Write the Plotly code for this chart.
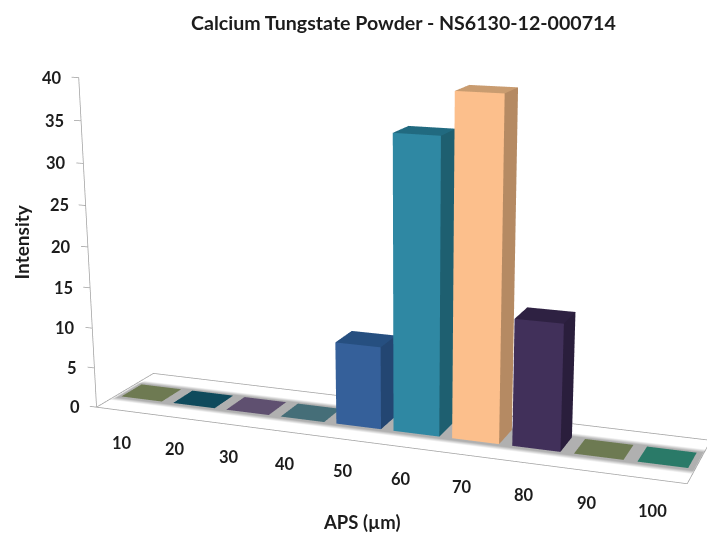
import plotly.graph_objects as go

categories = [10, 20, 30, 40, 50, 60, 70, 80, 90, 100]
values = [0, 0, 0, 0, 10, 35, 40, 15, 0, 0]
y_ticks = [0, 5, 10, 15, 20, 25, 30, 35, 40]

front_colors = ['#6e7a52', '#0f4a5c', '#5f5070', '#456e78', '#35609a', '#2f88a3', '#fcbf8c', '#41305a', '#6d7a52', '#2a7a68']
side_colors = ['#6e7a52', '#0f4a5c', '#5f5070', '#456e78', '#234672', '#1e5f70', '#b58a63', '#2a1e3c', '#6d7a52', '#2a7a68']
top_colors = ['#6e7a52', '#0f4a5c', '#5f5070', '#456e78', '#264f80', '#216a80', '#c99c70', '#2e2142', '#6d7a52', '#2a7a68']

# Depth of the bars on the floor, gap on each side of a bar
D0, D1, GAP = 0.3251, 0.6813, 0.1085
# Figure canvas: the reference has a long lens, so the scene is larger than the window
W, H, TOP = 816, 1349, -370.4
FLAT = dict(ambient=1, diffuse=0, specular=0, fresnel=0, roughness=1)
GREY = '#a0a0a0'
FONT = 'Lato'
INK = '#1c1c1c'


def px(x, y):
    return dict(x=x / W, y=1 - (y - TOP) / H, xref='paper', yref='paper')


fig = go.Figure()

# floor with its soft grey band
xs = [0, 0.06, 9.98, 10]
ys = [0, D0 - 0.11, D0 - 0.03, D1 + 0.03, D1 + 0.11, 1]
fx, fy, fz, fc, ii, jj, kk = [], [], [], [], [], [], []
for r, yv in enumerate(ys):
    for c, xv in enumerate(xs):
        fx.append(xv); fy.append(yv); fz.append(-0.05)
        inside = 1 <= c <= 2 and 2 <= r <= 3
        fc.append('#b0b0b0' if inside else '#ffffff')
for r in range(len(ys) - 1):
    for c in range(len(xs) - 1):
        a = r * len(xs) + c; b = a + 1; d = a + len(xs); e = d + 1
        ii += [a, a]; jj += [b, e]; kk += [e, d]
fig.add_trace(go.Mesh3d(x=fx, y=fy, z=fz, i=ii, j=jj, k=kk, vertexcolor=fc, lighting=FLAT, hoverinfo='skip'))

# bars
for n, v in enumerate(values):
    x0, x1 = n + GAP, n + 1 - GAP
    X = [x0, x1, x1, x0] * 2
    Y = [D0, D0, D1, D1] * 2
    Z = [0] * 4 + [v] * 4
    fig.add_trace(go.Mesh3d(
        x=X, y=Y, z=Z,
        i=[0, 0, 1, 1, 4, 4], j=[1, 5, 2, 6, 5, 6], k=[5, 4, 6, 5, 6, 7],
        facecolor=[front_colors[n]] * 2 + [side_colors[n]] * 2 + [top_colors[n]] * 2,
        flatshading=True, lighting=FLAT, hoverinfo='skip'))

# floor outline, axis line and ticks
lx = [0, 10, 10, 0, 0, None, 0, 0]
ly = [0, 0, 1, 1, 0, None, 0, 0]
lz = [0, 0, 0, 0, 0, None, 0, 40]
for t in y_ticks:
    lx += [None, 0, -0.13]; ly += [None, 0, 0]; lz += [None, t, t]
fig.add_trace(go.Scatter3d(x=lx, y=ly, z=lz, mode='lines', line=dict(color=GREY, width=1.5), hoverinfo='skip'))

labels = []
for t in y_ticks:
    labels.append(dict(x=0, y=0, z=t, text=str(t), showarrow=False, xanchor='right', yanchor='middle',
                       xshift=-15, font=dict(family=FONT, size=16.5, color=INK, weight='bold')))
for n, c in enumerate(categories):
    labels.append(dict(x=n + 0.5, y=0, z=0, text=str(c), showarrow=False, xanchor='center', yanchor='middle',
                       xshift=-1, yshift=-32, font=dict(family=FONT, size=16.5, color=INK, weight='bold')))

fig.update_layout(
    width=W, height=H, margin=dict(l=0, r=0, t=0, b=0), showlegend=False, paper_bgcolor='white',
    scene=dict(
        domain=dict(x=[0, 1], y=[0, 1]), aspectmode='manual', aspectratio=dict(x=2.0803, y=1.3658, z=1.1065),
        xaxis=dict(range=[-1, 11], visible=False), yaxis=dict(range=[-2, 2], visible=False),
        zaxis=dict(range=[-2, 44], visible=False), annotations=labels,
        camera=dict(eye=dict(x=1.5435, y=-3.9123, z=1.0558), center=dict(x=0.0903, y=0.0343, z=-0.1110),
                    up=dict(x=-0.0016, y=-0.0008, z=1), projection=dict(type='perspective'))),
    annotations=[
        dict(text='Calcium Tungstate Powder - NS6130-12-000714', showarrow=False, xanchor='center', yanchor='middle',
             font=dict(family=FONT, size=19.6, color=INK, weight='bold'), **px(403, 22)),
        dict(text='Intensity', textangle=-90, showarrow=False, xanchor='center', yanchor='middle',
             font=dict(family=FONT, size=19, color=INK, weight='bold'), **px(21, 242)),
        dict(text='APS (µm)', showarrow=False, xanchor='center', yanchor='middle',
             font=dict(family=FONT, size=18.5, color=INK, weight='bold'), **px(362, 522)),
    ])

shift = ("var g=document.getElementById('{plot_id}');g.style.position='absolute';g.style.left='0px';"
         "g.style.top='%spx';document.documentElement.style.overflow='hidden';document.body.style.overflow='hidden';" % TOP)
fig.write_html("out.html", post_script=shift, config=dict(displayModeBar=False))
